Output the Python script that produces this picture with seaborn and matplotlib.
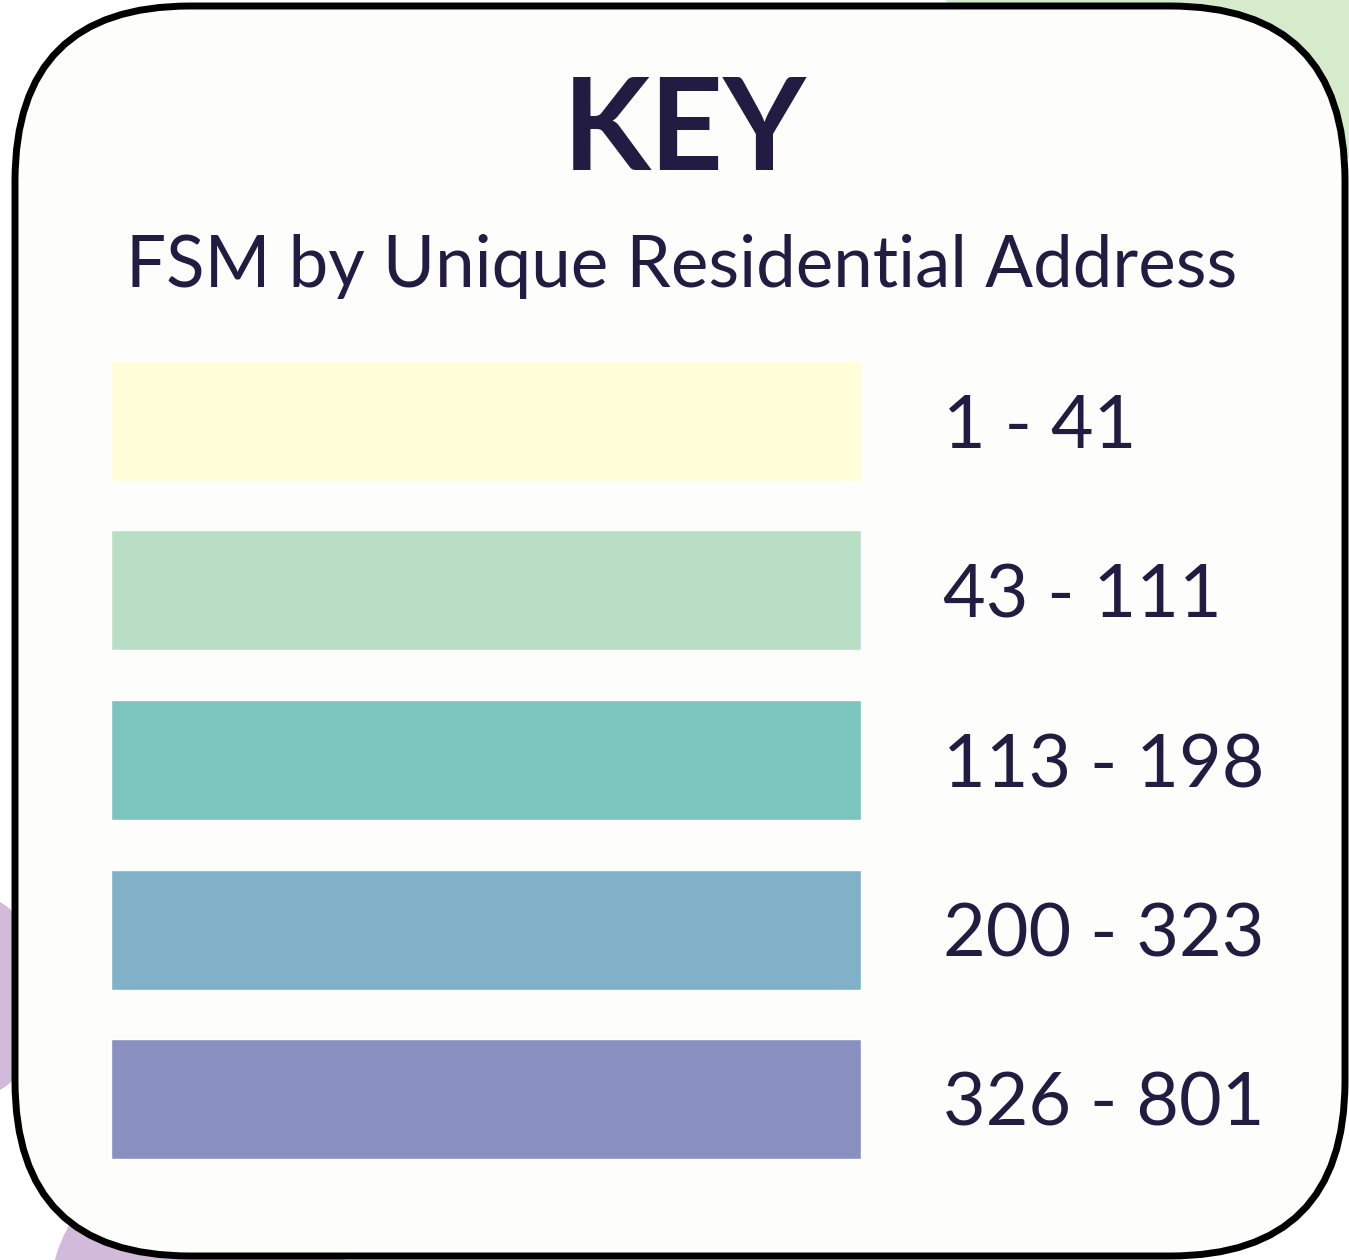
import matplotlib
matplotlib.use("Agg")
import matplotlib.pyplot as plt
from matplotlib.patches import FancyBboxPatch, Circle
import seaborn as sns

# legend key data
ranges = ["1 - 41", "43 - 111", "113 - 198", "200 - 323", "326 - 801"]
bar_len = [1, 1, 1, 1, 1]
colours = ["#FFFDD6", "#B8DFC6", "#7BC5BE", "#80B1C8", "#8990C0"]
title = "KEY"
subtitle = "FSM by Unique Residential Address"

ink = "#221C42"
W, H = 1349, 1260

sns.set_theme(style="white")
plt.rcParams['font.family'] = ['Lato', 'DejaVu Sans']

fig = plt.figure(figsize=(W / 100, H / 100), dpi=100)
fig.patch.set_facecolor("white")

# background / card, in pixel coords
bg = fig.add_axes([0, 0, 1, 1])
bg.set_xlim(0, W)
bg.set_ylim(H, 0)
bg.axis("off")
bg.add_patch(Circle((1280, -260), 423, color="#D5EBCB", zorder=1))
bg.add_patch(Circle((-60, 996), 111, color="#D2BADB", zorder=1))
bg.add_patch(Circle((200, 1300), 150, color="#D2BADB", zorder=1))
r = 175
card = FancyBboxPatch((15 + r, 6 + r), 1330 - 2 * r, 1250 - 2 * r,
                      boxstyle="round,pad=%d" % r, facecolor="#FDFDFB",
                      edgecolor="black", linewidth=5, zorder=2)
bg.add_patch(card)

fig.text(685 / W, 1 - 170 / H, title, ha="center", va="baseline",
         fontsize=92, fontweight="bold", color=ink)
fig.text(682 / W, 1 - 287 / H, subtitle, ha="center", va="baseline",
         fontsize=51, color=ink)

# bars
pitch = 169.5
top = 361 - (pitch - 120) / 2
ax = fig.add_axes([111 / W, 1 - (top + 5 * pitch) / H, 750 / W, 5 * pitch / H])
ax.patch.set_alpha(0)
sns.barplot(x=bar_len, y=ranges, hue=ranges, palette=colours, orient="h",
            width=120 / pitch, legend=False, saturation=1, ax=ax)
ax.set_xlim(0, 1)
ax.set_ylim(4.5, -0.5)
ax.set_xlabel("")
ax.set_ylabel("")
ax.set_xticks([])
ax.yaxis.tick_right()
ax.tick_params(axis="y", length=0, pad=59, labelsize=53, labelcolor=ink)
for s in ax.spines.values():
    s.set_visible(False)

fig.savefig("out.png", dpi=100, facecolor="white")
